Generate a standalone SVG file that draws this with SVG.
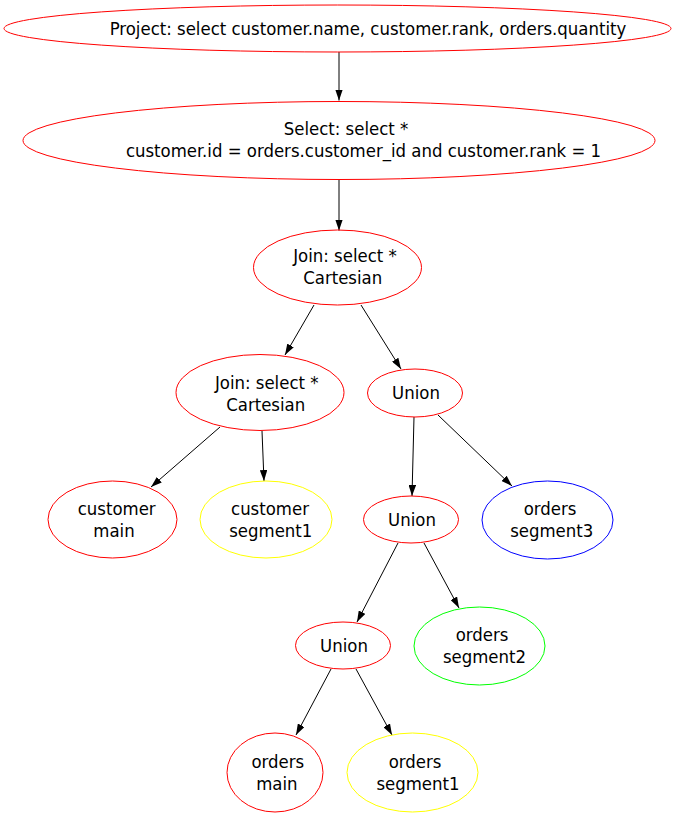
<svg xmlns="http://www.w3.org/2000/svg" width="676" height="817" viewBox="0 0 676 817">
<style>
  text { font-family: "DejaVu Sans Condensed", "DejaVu Sans", sans-serif; font-stretch: condensed; font-size: 18.4px; fill: #000; text-anchor: middle; }
  ellipse { fill: none; stroke-width: 1; }
  .red { stroke: #ff0000; }
  .yellow { stroke: #ffff00; }
  .blue { stroke: #0000ff; }
  .green { stroke: #00ff00; }
  .edge { stroke: #000; stroke-width: 1; fill: none; marker-end: url(#arrow); }
</style>
<defs>
  <marker id="arrow" viewBox="0 0 11 7.5" refX="11" refY="3.75" markerWidth="11" markerHeight="7.5" markerUnits="userSpaceOnUse" orient="auto">
    <path d="M0,0 L11,3.75 L0,7.5 z" fill="#000"/>
  </marker>
</defs>
<rect width="676" height="817" fill="#fff"/>
<g id="edges">
  <line class="edge" x1="339" y1="52" x2="339" y2="100.5"/>
  <line class="edge" x1="339" y1="180" x2="339" y2="230.5"/>
  <line class="edge" x1="314" y1="305" x2="285" y2="355"/>
  <line class="edge" x1="361" y1="305" x2="401" y2="369"/>
  <line class="edge" x1="220" y1="427" x2="151" y2="487"/>
  <line class="edge" x1="262" y1="431" x2="264" y2="481"/>
  <line class="edge" x1="414" y1="417" x2="412" y2="496"/>
  <line class="edge" x1="438" y1="415" x2="512" y2="486"/>
  <line class="edge" x1="398" y1="543" x2="357" y2="622"/>
  <line class="edge" x1="424" y1="543" x2="459" y2="608"/>
  <line class="edge" x1="331" y1="669" x2="296" y2="735"/>
  <line class="edge" x1="356" y1="669" x2="392" y2="735"/>
</g>
<g id="project">
  <ellipse class="red" cx="337.5" cy="28.5" rx="333.5" ry="23.5"/>
  <text x="368" y="35">Project: select customer.name, customer.rank, orders.quantity</text>
</g>
<g id="select">
  <ellipse class="red" cx="339" cy="140.5" rx="316" ry="39"/>
  <text x="346" y="135">Select: select *</text>
  <text x="363.5" y="157">customer.id = orders.customer_id and customer.rank = 1</text>
</g>
<g id="join1">
  <ellipse class="red" cx="337.5" cy="267.5" rx="84" ry="37.5"/>
  <text x="345" y="262">Join: select *</text>
  <text x="342.7" y="284">Cartesian</text>
</g>
<g id="join2">
  <ellipse class="red" cx="260" cy="392.5" rx="84" ry="38"/>
  <text x="266.7" y="388.7">Join: select *</text>
  <text x="265.7" y="410.6">Cartesian</text>
</g>
<g id="union1">
  <ellipse class="red" cx="415" cy="393" rx="47.5" ry="24"/>
  <text x="416" y="399">Union</text>
</g>
<g id="customer_main">
  <ellipse class="red" cx="112.5" cy="519.5" rx="64.5" ry="38.5"/>
  <text x="116.7" y="514.5">customer</text>
  <text x="114" y="536.5">main</text>
</g>
<g id="customer_segment1">
  <ellipse class="yellow" cx="266" cy="519.5" rx="66" ry="38.5"/>
  <text x="270" y="514.5">customer</text>
  <text x="270.8" y="536.5">segment1</text>
</g>
<g id="union2">
  <ellipse class="red" cx="411" cy="519.5" rx="47.5" ry="23.5"/>
  <text x="412" y="525.5">Union</text>
</g>
<g id="orders_segment3">
  <ellipse class="blue" cx="547.5" cy="520" rx="65.5" ry="39"/>
  <text x="550" y="514.5">orders</text>
  <text x="551.7" y="536.5">segment3</text>
</g>
<g id="union3">
  <ellipse class="red" cx="343" cy="645.5" rx="47.5" ry="23.5"/>
  <text x="344" y="652">Union</text>
</g>
<g id="orders_segment2">
  <ellipse class="green" cx="479.5" cy="646" rx="65.5" ry="39"/>
  <text x="482" y="641">orders</text>
  <text x="484.5" y="662.5">segment2</text>
</g>
<g id="orders_main">
  <ellipse class="red" cx="275" cy="772.5" rx="48" ry="39.5"/>
  <text x="277.8" y="767.5">orders</text>
  <text x="276.8" y="789.5">main</text>
</g>
<g id="orders_segment1">
  <ellipse class="yellow" cx="412.5" cy="772.5" rx="65.5" ry="39.5"/>
  <text x="415" y="767.5">orders</text>
  <text x="418" y="789.5">segment1</text>
</g>
</svg>
